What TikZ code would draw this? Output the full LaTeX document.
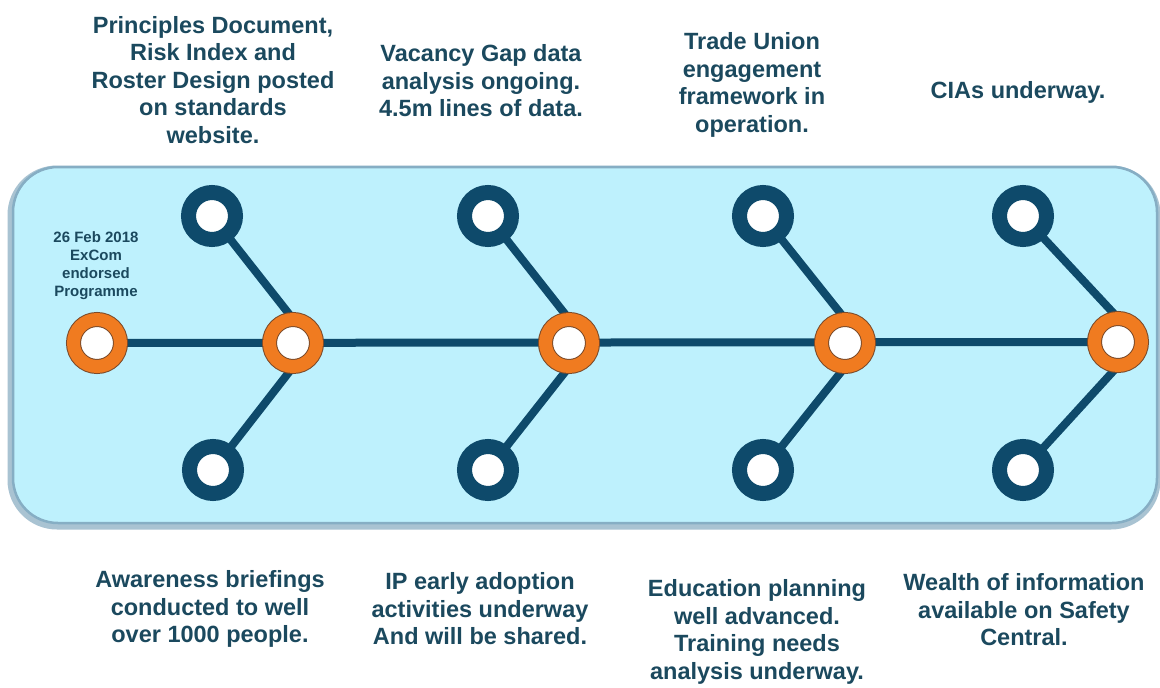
\documentclass[tikz,border=0pt]{standalone}
\usepackage{fontspec}
\setmainfont{Liberation Sans}
\definecolor{panel}{HTML}{BEF1FD}
\definecolor{panelEdge}{HTML}{86AEC4}
\definecolor{panelShadow}{HTML}{A9C3D2}
\definecolor{navy}{HTML}{0E4A6B}
\definecolor{hubOrange}{HTML}{F07B20}
\definecolor{hubEdge}{HTML}{7A4A2A}
\definecolor{txt}{HTML}{1B495E}
\pgfdeclarelayer{back}
\pgfdeclarelayer{background}
\pgfsetlayers{back,background,main}
\begin{document}
\begin{tikzpicture}[x=1pt,y=-1pt,
  hub/.style={circle, inner sep=0pt, minimum size=47pt, fill=white, draw=hubEdge, line width=1pt, double=hubOrange, double distance=13pt},
  ring/.style={circle, inner sep=0pt, minimum size=47pt, fill=white, draw=navy, line width=15pt},
  link/.style={draw=navy, line width=8pt},
  note/.style={align=center, inner sep=0pt, text=txt, font=\bfseries\fontsize{23.5}{27.5}\selectfont},
  small/.style={align=center, inner sep=0pt, text=txt, font=\bfseries\fontsize{15}{18}\selectfont}]
\useasboundingbox (0,0) rectangle (1160,688);
\begin{pgfonlayer}{back}
  \fill[white] (0,0) rectangle (1160,688);
  \draw[panelShadow, line width=7pt, rounded corners=46pt] (11,169) rectangle (1157,526);
  \draw[panelEdge, fill=panel, line width=2.5pt, rounded corners=45pt] (13,167) rectangle (1157,523);
\end{pgfonlayer}

% hubs on the spine
\node[hub] (h0) at (97,343) {};
\node[hub] (h1) at (293,343) {};
\node[hub] (h2) at (569,343) {};
\node[hub] (h3) at (845,343) {};
\node[hub] (h4) at (1118,342) {};

% branch rings
\node[ring] (t1) at (212,216) {};
\node[ring] (b1) at (213,470) {};
\node[ring] (t2) at (488,216) {};
\node[ring] (b2) at (488,470) {};
\node[ring] (t3) at (763,216) {};
\node[ring] (b3) at (763,470) {};
\node[ring] (t4) at (1023,216) {};
\node[ring] (b4) at (1023,470) {};

\begin{pgfonlayer}{background}
  \draw[link] (h0.center) -- (h4.center);
  \draw[link] (t1.center) -- (h1.north);
  \draw[link] (b1.center) -- (h1.south);
  \draw[link] (t2.center) -- (h2.north);
  \draw[link] (b2.center) -- (h2.south);
  \draw[link] (t3.center) -- (h3.north);
  \draw[link] (b3.center) -- (h3.south);
  \draw[link] (t4.center) -- (h4.north);
  \draw[link] (b4.center) -- (h4.south);
\end{pgfonlayer}

% labels
\node[small] (l0) at (96,266) {26 Feb 2018\\ExCom\\endorsed\\Programme};
\node[note] (n1) at (213,80) {Principles Document,\\Risk Index and\\Roster Design posted\\on standards\\website.};
\node[note] (n2) at (481,81) {Vacancy Gap data\\analysis ongoing.\\4.5m lines of data.};
\node[note] (n3) at (752,85) {Trade Union\\engagement\\framework in\\operation.};
\node[note] (n4) at (1018,92) {CIAs underway.};
\node[note] (s1) at (210,609) {Awareness briefings\\conducted to well\\over 1000 people.};
\node[note] (s2) at (480,609) {IP early adoption\\activities underway\\And will be shared.};
\node[note] (s3) at (757,632) {Education planning\\well advanced.\\Training needs\\analysis underway.};
\node[note] (s4) at (1024,610) {Wealth of information\\available on Safety\\Central.};
\end{tikzpicture}
\end{document}
